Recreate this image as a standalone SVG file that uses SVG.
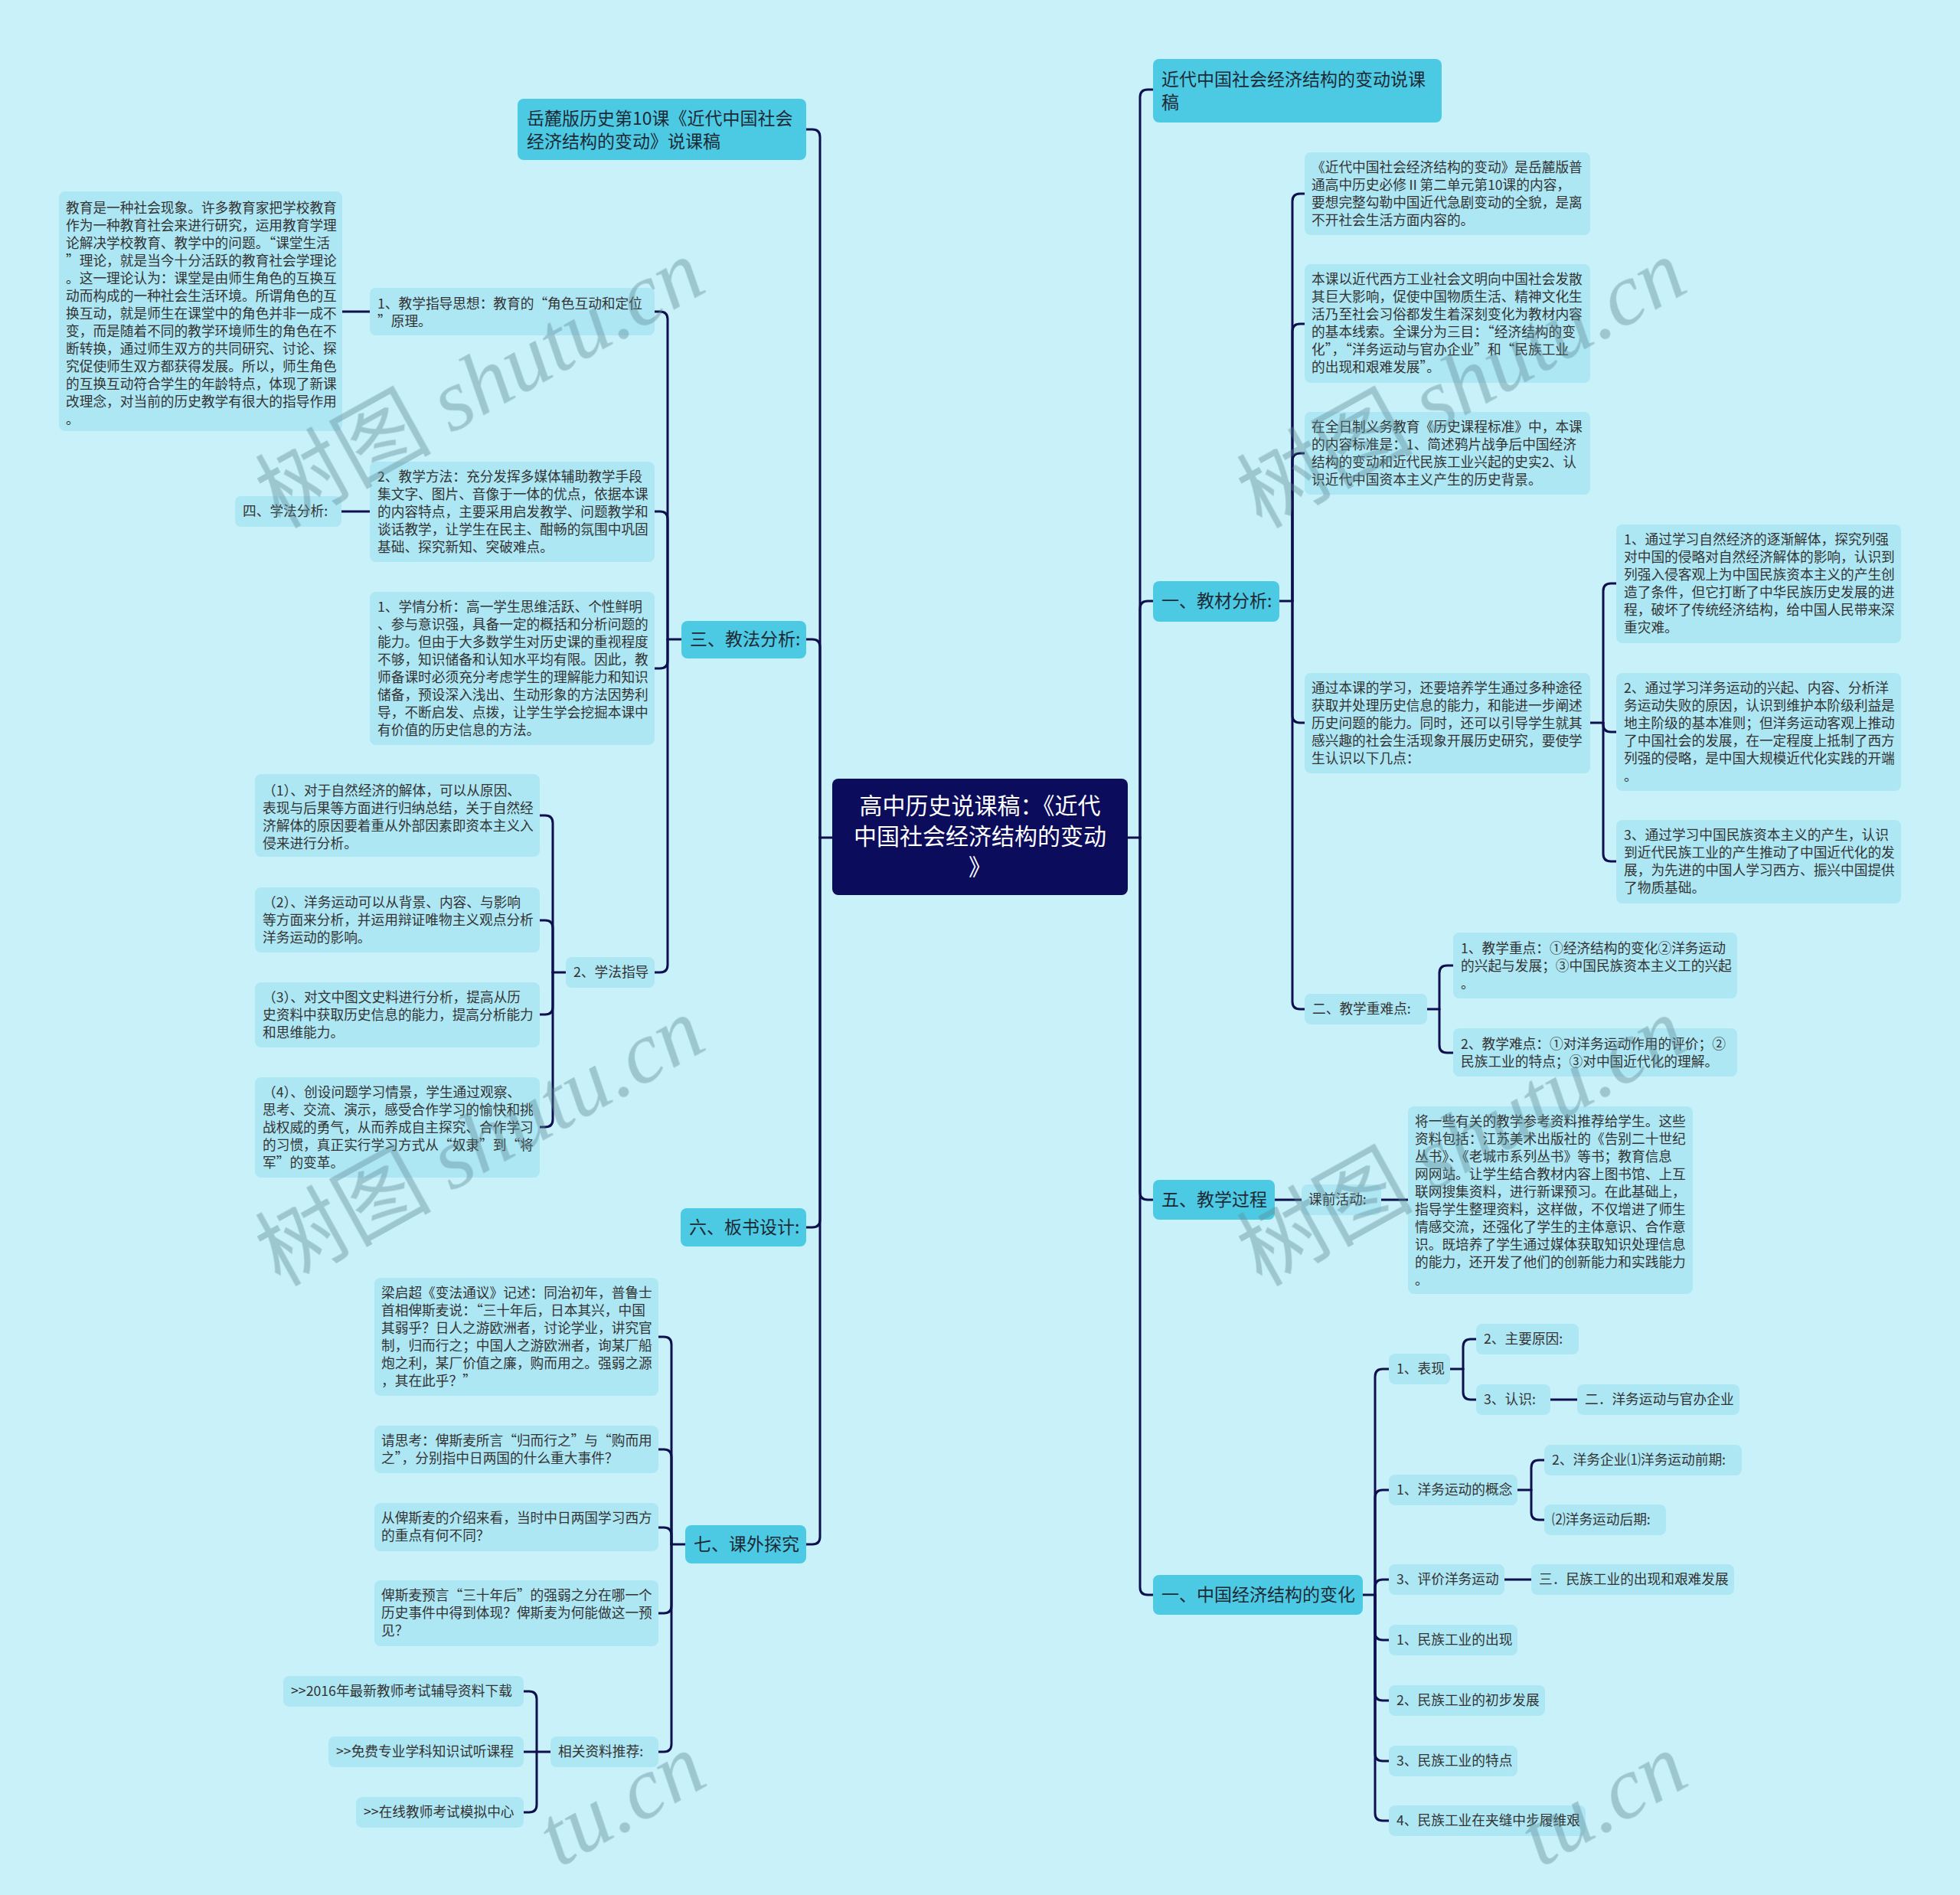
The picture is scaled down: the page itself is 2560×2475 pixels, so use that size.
<svg xmlns="http://www.w3.org/2000/svg" width="2560" height="2475" viewBox="0 0 2560 2475">
<style>
.t{font-family:"Noto Sans CJK SC","Noto Sans",sans-serif;font-size:17.7px;fill:#333333}
.mt{font-family:"Noto Sans CJK SC","Noto Sans",sans-serif;font-size:23px;fill:#1d2a36}
.ct{font-family:"Noto Sans CJK SC","Noto Sans",sans-serif;font-size:30px;fill:#ffffff;text-anchor:middle}
.leaf{fill:#aee7f4}
.main{fill:#4dcae3}
.center{fill:#0c0c5c}
.conn path{fill:none;stroke:#0d0f4f;stroke-width:3;stroke-linecap:round;stroke-linejoin:round}
.wm{font-size:115px;fill:#5e8a94;opacity:0.4}
.wmc{font-family:"Noto Sans CJK SC",sans-serif}
.wml{font-family:"Liberation Serif",serif;font-style:italic}
</style>
<rect x="0" y="0" width="2560" height="2475" fill="#c9f1f9"/>

<g class="conn" id="connectors">
<path d="M1087,1094 H1071"/>
<path d="M1071,1094 V179 Q1071,169 1061,169 H1053"/>
<path d="M1071,1094 V845 Q1071,835 1061,835 H1053"/>
<path d="M1071,1094 V1593 Q1071,1603 1061,1603 H1053"/>
<path d="M1071,1094 V2007 Q1071,2017 1061,2017 H1053"/>
<path d="M1473,1094 H1489"/>
<path d="M1489,1094 V127 Q1489,117 1499,117 H1506"/>
<path d="M1489,1094 V795 Q1489,785 1499,785 H1506"/>
<path d="M1489,1094 V1557 Q1489,1567 1499,1567 H1506"/>
<path d="M1489,1094 V2073 Q1489,2083 1499,2083 H1506"/>
<path d="M890,835 H872"/>
<path d="M872,835 V417 Q872,407 862,407 H855"/>
<path d="M872,835 V678 Q872,668 862,668 H855"/>
<path d="M872,835 V863 Q872,873 862,873 H855"/>
<path d="M872,835 V1260 Q872,1270 862,1270 H855"/>
<path d="M483,407 H447"/>
<path d="M483,668 H446"/>
<path d="M739,1270 H722"/>
<path d="M722,1270 V1075 Q722,1065 712,1065 H705"/>
<path d="M722,1270 V1212 Q722,1202 712,1202 H705"/>
<path d="M722,1270 V1315 Q722,1325 712,1325 H705"/>
<path d="M722,1270 V1462 Q722,1472 712,1472 H705"/>
<path d="M895,2017 H877"/>
<path d="M877,2017 V1756 Q877,1746 867,1746 H860"/>
<path d="M877,2017 V1903 Q877,1893 867,1893 H860"/>
<path d="M877,2017 V2005 Q877,1995 867,1995 H860"/>
<path d="M877,2017 V2097 Q877,2107 867,2107 H860"/>
<path d="M877,2017 V2278 Q877,2288 867,2288 H860"/>
<path d="M719,2288 H684"/>
<path d="M701,2288 V2219 Q701,2209 691,2209 H684"/>
<path d="M701,2288 V2357 Q701,2367 691,2367 H684"/>
<path d="M1671,785 H1688"/>
<path d="M1688,785 V263 Q1688,253 1698,253 H1704"/>
<path d="M1688,785 V433 Q1688,423 1698,423 H1704"/>
<path d="M1688,785 V602 Q1688,592 1698,592 H1704"/>
<path d="M1688,785 V934 Q1688,944 1698,944 H1704"/>
<path d="M1688,785 V1308 Q1688,1318 1698,1318 H1704"/>
<path d="M2077,944 H2094"/>
<path d="M2094,944 V772 Q2094,762 2104,762 H2111"/>
<path d="M2094,944 V946 Q2094,956 2104,956 H2111"/>
<path d="M2094,944 V1115 Q2094,1125 2104,1125 H2111"/>
<path d="M1864,1318 H1880"/>
<path d="M1880,1318 V1271 Q1880,1261 1890,1261 H1898"/>
<path d="M1880,1318 V1365 Q1880,1375 1890,1375 H1898"/>
<path d="M1665,1567 H1700"/>
<path d="M1804,1567 H1839"/>
<path d="M1780,2083 H1796"/>
<path d="M1796,2083 V1798 Q1796,1788 1806,1788 H1814"/>
<path d="M1796,2083 V1956 Q1796,1946 1806,1946 H1814"/>
<path d="M1796,2083 V2073 Q1796,2063 1806,2063 H1814"/>
<path d="M1796,2083 V2132 Q1796,2142 1806,2142 H1814"/>
<path d="M1796,2083 V2211 Q1796,2221 1806,2221 H1814"/>
<path d="M1796,2083 V2290 Q1796,2300 1806,2300 H1814"/>
<path d="M1796,2083 V2368 Q1796,2378 1806,2378 H1814"/>
<path d="M1894,1788 H1911"/>
<path d="M1911,1788 V1759 Q1911,1749 1921,1749 H1928"/>
<path d="M1911,1788 V1818 Q1911,1828 1921,1828 H1928"/>
<path d="M2025,1828 H2060"/>
<path d="M1982,1946 H2000"/>
<path d="M2000,1946 V1917 Q2000,1907 2010,1907 H2017"/>
<path d="M2000,1946 V1975 Q2000,1985 2010,1985 H2017"/>
<path d="M1965,2063 H2000"/>
</g>

<g id="center">
<rect class="center" x="1087" y="1017" width="386" height="152" rx="8"/>
<text class="ct" x="1280" y="1063">高中历史说课稿：《近代</text>
<text class="ct" x="1280" y="1103">中国社会经济结构的变动</text>
<text class="ct" x="1280" y="1143">》</text>
</g>

<g id="n-yuelu">
<rect class="main" x="676" y="129" width="377" height="80" rx="8"/>
<text class="mt" x="688" y="163">岳麓版历史第10课《近代中国社会</text>
<text class="mt" x="688" y="193">经济结构的变动》说课稿</text>
</g>
<g id="n-jiaofa">
<rect class="main" x="890" y="811" width="163" height="49" rx="8"/>
<text class="mt" x="901" y="843">三、教法分析:</text>
</g>
<g id="n-banshu">
<rect class="main" x="889" y="1578" width="164" height="50" rx="8"/>
<text class="mt" x="900" y="1611">六、板书设计:</text>
</g>
<g id="n-kewai">
<rect class="main" x="895" y="1992" width="158" height="50" rx="8"/>
<text class="mt" x="906" y="2025">七、课外探究</text>
</g>

<g id="n-zhidao">
<rect class="leaf" x="483" y="376" width="372" height="62" rx="8"/>
<text class="t" x="493" y="403">1、教学指导思想：教育的“角色互动和定位</text>
<text class="t" x="493" y="426">”原理。</text>
</g>
<g id="n-jiaoyu">
<rect class="leaf" x="77" y="250" width="370" height="313" rx="8"/>
<text class="t" x="86" y="278">教育是一种社会现象。许多教育家把学校教育</text>
<text class="t" x="86" y="301">作为一种教育社会来进行研究，运用教育学理</text>
<text class="t" x="86" y="324">论解决学校教育、教学中的问题。“课堂生活</text>
<text class="t" x="86" y="347">”理论，就是当今十分活跃的教育社会学理论</text>
<text class="t" x="86" y="370">。这一理论认为：课堂是由师生角色的互换互</text>
<text class="t" x="86" y="393">动而构成的一种社会生活环境。所谓角色的互</text>
<text class="t" x="86" y="416">换互动，就是师生在课堂中的角色并非一成不</text>
<text class="t" x="86" y="439">变，而是随着不同的教学环境师生的角色在不</text>
<text class="t" x="86" y="462">断转换，通过师生双方的共同研究、讨论、探</text>
<text class="t" x="86" y="485">究促使师生双方都获得发展。所以，师生角色</text>
<text class="t" x="86" y="508">的互换互动符合学生的年龄特点，体现了新课</text>
<text class="t" x="86" y="531">改理念，对当前的历史教学有很大的指导作用</text>
<text class="t" x="86" y="554">。</text>
</g>
<g id="n-fangfa">
<rect class="leaf" x="483" y="603" width="372" height="131" rx="8"/>
<text class="t" x="493" y="629">2、教学方法：充分发挥多媒体辅助教学手段</text>
<text class="t" x="493" y="652">集文字、图片、音像于一体的优点，依据本课</text>
<text class="t" x="493" y="675">的内容特点，主要采用启发教学、问题教学和</text>
<text class="t" x="493" y="698">谈话教学，让学生在民主、酣畅的氛围中巩固</text>
<text class="t" x="493" y="721">基础、探究新知、突破难点。</text>
</g>
<g id="n-xuefa4">
<rect class="leaf" x="307" y="648" width="139" height="40" rx="8"/>
<text class="t" x="317" y="674">四、学法分析:</text>
</g>
<g id="n-xueqing">
<rect class="leaf" x="483" y="773" width="372" height="200" rx="8"/>
<text class="t" x="493" y="799">1、学情分析：高一学生思维活跃、个性鲜明</text>
<text class="t" x="493" y="822">、参与意识强，具备一定的概括和分析问题的</text>
<text class="t" x="493" y="845">能力。但由于大多数学生对历史课的重视程度</text>
<text class="t" x="493" y="868">不够，知识储备和认知水平均有限。因此，教</text>
<text class="t" x="493" y="891">师备课时必须充分考虑学生的理解能力和知识</text>
<text class="t" x="493" y="914">储备，预设深入浅出、生动形象的方法因势利</text>
<text class="t" x="493" y="937">导，不断启发、点拨，让学生学会挖掘本课中</text>
<text class="t" x="493" y="960">有价值的历史信息的方法。</text>
</g>
<g id="n-xuefazhidao">
<rect class="leaf" x="739" y="1250" width="116" height="40" rx="8"/>
<text class="t" x="749" y="1276">2、学法指导</text>
</g>
<g id="n-zd1">
<rect class="leaf" x="333" y="1011" width="372" height="108" rx="8"/>
<text class="t" x="343" y="1039">（1）、对于自然经济的解体，可以从原因、</text>
<text class="t" x="343" y="1062">表现与后果等方面进行归纳总结，关于自然经</text>
<text class="t" x="343" y="1085">济解体的原因要着重从外部因素即资本主义入</text>
<text class="t" x="343" y="1108">侵来进行分析。</text>
</g>
<g id="n-zd2">
<rect class="leaf" x="333" y="1159" width="372" height="85" rx="8"/>
<text class="t" x="343" y="1185">（2）、洋务运动可以从背景、内容、与影响</text>
<text class="t" x="343" y="1208">等方面来分析，并运用辩证唯物主义观点分析</text>
<text class="t" x="343" y="1231">洋务运动的影响。</text>
</g>
<g id="n-zd3">
<rect class="leaf" x="333" y="1283" width="372" height="85" rx="8"/>
<text class="t" x="343" y="1309">（3）、对文中图文史料进行分析，提高从历</text>
<text class="t" x="343" y="1332">史资料中获取历史信息的能力，提高分析能力</text>
<text class="t" x="343" y="1355">和思维能力。</text>
</g>
<g id="n-zd4">
<rect class="leaf" x="333" y="1407" width="372" height="131" rx="8"/>
<text class="t" x="343" y="1433">（4）、创设问题学习情景，学生通过观察、</text>
<text class="t" x="343" y="1456">思考、交流、演示，感受合作学习的愉快和挑</text>
<text class="t" x="343" y="1479">战权威的勇气，从而养成自主探究、合作学习</text>
<text class="t" x="343" y="1502">的习惯，真正实行学习方式从“奴隶”到“将</text>
<text class="t" x="343" y="1525">军”的变革。</text>
</g>

<g id="n-liang">
<rect class="leaf" x="489" y="1669" width="371" height="154" rx="8"/>
<text class="t" x="498" y="1695">梁启超《变法通议》记述：同治初年，普鲁士</text>
<text class="t" x="498" y="1718">首相俾斯麦说：“三十年后，日本其兴，中国</text>
<text class="t" x="498" y="1741">其弱乎？日人之游欧洲者，讨论学业，讲究官</text>
<text class="t" x="498" y="1764">制，归而行之；中国人之游欧洲者，询某厂船</text>
<text class="t" x="498" y="1787">炮之利，某厂价值之廉，购而用之。强弱之源</text>
<text class="t" x="498" y="1810">，其在此乎？”</text>
</g>
<g id="n-qing">
<rect class="leaf" x="489" y="1862" width="371" height="62" rx="8"/>
<text class="t" x="498" y="1888">请思考：俾斯麦所言“归而行之”与“购而用</text>
<text class="t" x="498" y="1911">之”，分别指中日两国的什么重大事件？</text>
</g>
<g id="n-cong">
<rect class="leaf" x="489" y="1963" width="371" height="63" rx="8"/>
<text class="t" x="498" y="1989">从俾斯麦的介绍来看，当时中日两国学习西方</text>
<text class="t" x="498" y="2012">的重点有何不同？</text>
</g>
<g id="n-yuyan">
<rect class="leaf" x="489" y="2064" width="371" height="86" rx="8"/>
<text class="t" x="498" y="2090">俾斯麦预言“三十年后”的强弱之分在哪一个</text>
<text class="t" x="498" y="2113">历史事件中得到体现？俾斯麦为何能做这一预</text>
<text class="t" x="498" y="2136">见？</text>
</g>
<g id="n-ziliao">
<rect class="leaf" x="719" y="2268" width="141" height="40" rx="8"/>
<text class="t" x="729" y="2294">相关资料推荐:</text>
</g>
<g id="n-zl1">
<rect class="leaf" x="370" y="2189" width="314" height="40" rx="8"/>
<text class="t" x="380" y="2215">&gt;&gt;2016年最新教师考试辅导资料下载</text>
</g>
<g id="n-zl2">
<rect class="leaf" x="429" y="2268" width="255" height="40" rx="8"/>
<text class="t" x="439" y="2294">&gt;&gt;免费专业学科知识试听课程</text>
</g>
<g id="n-zl3">
<rect class="leaf" x="465" y="2347" width="219" height="40" rx="8"/>
<text class="t" x="475" y="2373">&gt;&gt;在线教师考试模拟中心</text>
</g>

<g id="n-jindai">
<rect class="main" x="1506" y="77" width="377" height="83" rx="8"/>
<text class="mt" x="1517" y="112">近代中国社会经济结构的变动说课</text>
<text class="mt" x="1517" y="142">稿</text>
</g>
<g id="n-jiaocai">
<rect class="main" x="1506" y="759" width="165" height="53" rx="8"/>
<text class="mt" x="1517" y="793">一、教材分析:</text>
</g>
<g id="n-guocheng">
<rect class="main" x="1506" y="1541" width="159" height="52" rx="8"/>
<text class="mt" x="1517" y="1575">五、教学过程</text>
</g>
<g id="n-jingji">
<rect class="main" x="1506" y="2057" width="274" height="52" rx="8"/>
<text class="mt" x="1517" y="2091">一、中国经济结构的变化</text>
</g>

<g id="n-r1">
<rect class="leaf" x="1704" y="199" width="373" height="108" rx="8"/>
<text class="t" x="1713" y="225">《近代中国社会经济结构的变动》是岳麓版普</text>
<text class="t" x="1713" y="248">通高中历史必修Ⅱ第二单元第10课的内容，</text>
<text class="t" x="1713" y="271">要想完整勾勒中国近代急剧变动的全貌，是离</text>
<text class="t" x="1713" y="294">不开社会生活方面内容的。</text>
</g>
<g id="n-r2">
<rect class="leaf" x="1704" y="345" width="373" height="155" rx="8"/>
<text class="t" x="1713" y="371">本课以近代西方工业社会文明向中国社会发散</text>
<text class="t" x="1713" y="394">其巨大影响，促使中国物质生活、精神文化生</text>
<text class="t" x="1713" y="417">活乃至社会习俗都发生着深刻变化为教材内容</text>
<text class="t" x="1713" y="440">的基本线索。全课分为三目：“经济结构的变</text>
<text class="t" x="1713" y="463">化”，“洋务运动与官办企业”和“民族工业</text>
<text class="t" x="1713" y="486">的出现和艰难发展”。</text>
</g>
<g id="n-r3">
<rect class="leaf" x="1704" y="538" width="373" height="108" rx="8"/>
<text class="t" x="1713" y="564">在全日制义务教育《历史课程标准》中，本课</text>
<text class="t" x="1713" y="587">的内容标准是：1、简述鸦片战争后中国经济</text>
<text class="t" x="1713" y="610">结构的变动和近代民族工业兴起的史实2、认</text>
<text class="t" x="1713" y="633">识近代中国资本主义产生的历史背景。</text>
</g>
<g id="n-r4">
<rect class="leaf" x="1704" y="879" width="373" height="131" rx="8"/>
<text class="t" x="1713" y="905">通过本课的学习，还要培养学生通过多种途径</text>
<text class="t" x="1713" y="928">获取并处理历史信息的能力，和能进一步阐述</text>
<text class="t" x="1713" y="951">历史问题的能力。同时，还可以引导学生就其</text>
<text class="t" x="1713" y="974">感兴趣的社会生活现象开展历史研究，要使学</text>
<text class="t" x="1713" y="997">生认识以下几点：</text>
</g>
<g id="n-r4a">
<rect class="leaf" x="2111" y="685" width="372" height="155" rx="8"/>
<text class="t" x="2121" y="711">1、通过学习自然经济的逐渐解体，探究列强</text>
<text class="t" x="2121" y="734">对中国的侵略对自然经济解体的影响，认识到</text>
<text class="t" x="2121" y="757">列强入侵客观上为中国民族资本主义的产生创</text>
<text class="t" x="2121" y="780">造了条件，但它打断了中华民族历史发展的进</text>
<text class="t" x="2121" y="803">程，破坏了传统经济结构，给中国人民带来深</text>
<text class="t" x="2121" y="826">重灾难。</text>
</g>
<g id="n-r4b">
<rect class="leaf" x="2111" y="879" width="372" height="154" rx="8"/>
<text class="t" x="2121" y="905">2、通过学习洋务运动的兴起、内容、分析洋</text>
<text class="t" x="2121" y="928">务运动失败的原因，认识到维护本阶级利益是</text>
<text class="t" x="2121" y="951">地主阶级的基本准则；但洋务运动客观上推动</text>
<text class="t" x="2121" y="974">了中国社会的发展，在一定程度上抵制了西方</text>
<text class="t" x="2121" y="997">列强的侵略，是中国大规模近代化实践的开端</text>
<text class="t" x="2121" y="1020">。</text>
</g>
<g id="n-r4c">
<rect class="leaf" x="2111" y="1071" width="372" height="109" rx="8"/>
<text class="t" x="2121" y="1097">3、通过学习中国民族资本主义的产生，认识</text>
<text class="t" x="2121" y="1120">到近代民族工业的产生推动了中国近代化的发</text>
<text class="t" x="2121" y="1143">展，为先进的中国人学习西方、振兴中国提供</text>
<text class="t" x="2121" y="1166">了物质基础。</text>
</g>
<g id="n-zhongnan">
<rect class="leaf" x="1704" y="1298" width="160" height="40" rx="8"/>
<text class="t" x="1714" y="1324">二、教学重难点:</text>
</g>
<g id="n-zhongdian">
<rect class="leaf" x="1898" y="1218" width="371" height="86" rx="8"/>
<text class="t" x="1908" y="1245">1、教学重点：①经济结构的变化②洋务运动</text>
<text class="t" x="1908" y="1268">的兴起与发展；③中国民族资本主义工的兴起</text>
<text class="t" x="1908" y="1291">。</text>
</g>
<g id="n-nandian">
<rect class="leaf" x="1898" y="1343" width="371" height="63" rx="8"/>
<text class="t" x="1908" y="1370">2、教学难点：①对洋务运动作用的评价；②</text>
<text class="t" x="1908" y="1393">民族工业的特点；③对中国近代化的理解。</text>
</g>

<g id="n-keqian">
<rect class="leaf" x="1700" y="1547" width="104" height="40" rx="8"/>
<text class="t" x="1709" y="1573">课前活动:</text>
</g>
<g id="n-tuijian">
<rect class="leaf" x="1839" y="1445" width="372" height="245" rx="8"/>
<text class="t" x="1848" y="1471">将一些有关的教学参考资料推荐给学生。这些</text>
<text class="t" x="1848" y="1494">资料包括：江苏美术出版社的《告别二十世纪</text>
<text class="t" x="1848" y="1517">丛书》、《老城市系列丛书》等书；教育信息</text>
<text class="t" x="1848" y="1540">网网站。让学生结合教材内容上图书馆、上互</text>
<text class="t" x="1848" y="1563">联网搜集资料，进行新课预习。在此基础上，</text>
<text class="t" x="1848" y="1586">指导学生整理资料，这样做，不仅增进了师生</text>
<text class="t" x="1848" y="1609">情感交流，还强化了学生的主体意识、合作意</text>
<text class="t" x="1848" y="1632">识。既培养了学生通过媒体获取知识处理信息</text>
<text class="t" x="1848" y="1655">的能力，还开发了他们的创新能力和实践能力</text>
<text class="t" x="1848" y="1678">。</text>
</g>

<g id="n-biaoxian">
<rect class="leaf" x="1814" y="1768" width="80" height="40" rx="8"/>
<text class="t" x="1824" y="1794">1、表现</text>
</g>
<g id="n-yuanyin">
<rect class="leaf" x="1928" y="1729" width="134" height="40" rx="8"/>
<text class="t" x="1938" y="1755">2、主要原因:</text>
</g>
<g id="n-renshi">
<rect class="leaf" x="1928" y="1808" width="97" height="40" rx="8"/>
<text class="t" x="1938" y="1834">3、认识:</text>
</g>
<g id="n-guanban">
<rect class="leaf" x="2060" y="1808" width="212" height="40" rx="8"/>
<text class="t" x="2070" y="1834">二．洋务运动与官办企业</text>
</g>
<g id="n-gainian">
<rect class="leaf" x="1814" y="1926" width="168" height="40" rx="8"/>
<text class="t" x="1824" y="1952">1、洋务运动的概念</text>
</g>
<g id="n-qianqi">
<rect class="leaf" x="2017" y="1887" width="258" height="40" rx="8"/>
<text class="t" x="2027" y="1913">2、洋务企业⑴洋务运动前期:</text>
</g>
<g id="n-houqi">
<rect class="leaf" x="2017" y="1965" width="159" height="40" rx="8"/>
<text class="t" x="2027" y="1991">⑵洋务运动后期:</text>
</g>
<g id="n-pingjia">
<rect class="leaf" x="1814" y="2043" width="151" height="40" rx="8"/>
<text class="t" x="1824" y="2069">3、评价洋务运动</text>
</g>
<g id="n-minzu">
<rect class="leaf" x="2000" y="2043" width="265" height="40" rx="8"/>
<text class="t" x="2010" y="2069">三．民族工业的出现和艰难发展</text>
</g>
<g id="n-mz1">
<rect class="leaf" x="1814" y="2122" width="168" height="40" rx="8"/>
<text class="t" x="1824" y="2148">1、民族工业的出现</text>
</g>
<g id="n-mz2">
<rect class="leaf" x="1814" y="2201" width="204" height="40" rx="8"/>
<text class="t" x="1824" y="2227">2、民族工业的初步发展</text>
</g>
<g id="n-mz3">
<rect class="leaf" x="1814" y="2280" width="168" height="40" rx="8"/>
<text class="t" x="1824" y="2306">3、民族工业的特点</text>
</g>
<g id="n-mz4">
<rect class="leaf" x="1814" y="2358" width="257" height="40" rx="8"/>
<text class="t" x="1824" y="2384">4、民族工业在夹缝中步履维艰</text>
</g>

<g id="watermark" class="wm">
<text transform="translate(646,535) rotate(-29)" text-anchor="middle"><tspan class="wmc">树图 </tspan><tspan class="wml">shutu.cn</tspan></text>
<text transform="translate(646,1525) rotate(-29)" text-anchor="middle"><tspan class="wmc">树图 </tspan><tspan class="wml">shutu.cn</tspan></text>
<text transform="translate(1928,535) rotate(-29)" text-anchor="middle"><tspan class="wmc">树图 </tspan><tspan class="wml">shutu.cn</tspan></text>
<text transform="translate(1928,1525) rotate(-29)" text-anchor="middle"><tspan class="wmc">树图 </tspan><tspan class="wml">shutu.cn</tspan></text>
<text class="wml" transform="translate(730,2440) rotate(-29)">tu.cn</text>
<text class="wml" transform="translate(2012,2440) rotate(-29)">tu.cn</text>
</g>
</svg>
